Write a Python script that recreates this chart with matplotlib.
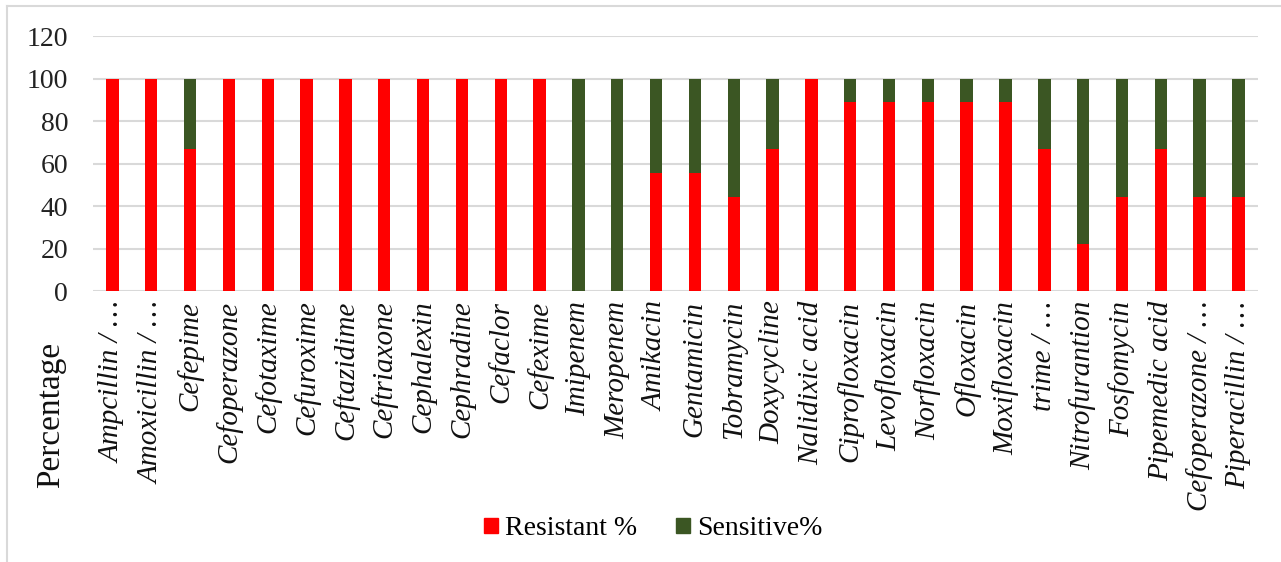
import numpy as np
import matplotlib
matplotlib.use('Agg')
import matplotlib.pyplot as plt
from matplotlib.lines import Line2D
from matplotlib.patches import Patch

drugs = ['Ampcillin / \u2026', 'Amoxicillin / \u2026', 'Cefepime', 'Cefoperazone',
         'Cefotaxime', 'Cefuroxime', 'Ceftazidime', 'Ceftriaxone', 'Cephalexin',
         'Cephradine', 'Cefaclor', 'Cefexime', 'Imipenem', 'Meropenem',
         'Amikacin', 'Gentamicin', 'Tobramycin', 'Doxycycline', 'Nalidixic acid',
         'Ciprofloxacin', 'Levofloxacin', 'Norfloxacin', 'Ofloxacin',
         'Moxifloxacin', 'trime / \u2026', 'Nitrofurantion', 'Fosfomycin',
         'Pipemedic acid', 'Cefoperazone / \u2026', 'Piperacillin / \u2026']
resistant = [100, 100, 66.7, 100, 100, 100, 100, 100, 100, 100, 100, 100, 0, 0,
             55.6, 55.6, 44.4, 66.7, 100, 88.9, 88.9, 88.9, 88.9, 88.9, 66.7,
             22.2, 44.4, 66.7, 44.4, 44.4]
sensitive = [0, 0, 33.3, 0, 0, 0, 0, 0, 0, 0, 0, 0, 100, 100,
             44.4, 44.4, 55.6, 33.3, 0, 11.1, 11.1, 11.1, 11.1, 11.1, 33.3,
             77.8, 55.6, 33.3, 55.6, 55.6]
yticks = [0, 20, 40, 60, 80, 100, 120]

RED = '#ff0000'
GREEN = '#3b5623'
serif = ['Liberation Serif', 'DejaVu Serif']

fig = plt.figure(figsize=(12.81, 5.62), dpi=100)
ax = fig.add_axes([0.0726, 0.4822, 0.9094, 0.4537])

x = np.arange(len(drugs))
ax.bar(x, resistant, width=0.32, color=RED, zorder=3)
ax.bar(x, sensitive, width=0.32, bottom=resistant, color=GREEN, zorder=3)

ax.set_xlim(-0.5, len(drugs) - 0.5)
ax.set_ylim(0, 120)
ax.set_yticks(yticks)
ax.set_yticklabels([str(v) for v in yticks], family=serif, fontsize=20,
                   color='#222222')
ax.yaxis.grid(True, color='#d9d9d9', linewidth=1.5, zorder=0)
ax.tick_params(axis='y', length=0, pad=18)
ax.tick_params(axis='x', length=0, pad=7)
ax.set_xticks(x)
ax.set_xticklabels(drugs, rotation=90, family=serif, style='italic',
                   fontsize=21, va='top', ha='center', color='#111111')
for s in ax.spines.values():
    s.set_visible(False)

fig.text(0.040, 0.262, 'Percentage', rotation=90, family=serif, fontsize=24,
         ha='center', va='center', color='#111111')

handles = [Patch(color=RED, label='Resistant %'),
           Patch(color=GREEN, label='Sensitive%')]
fig.legend(handles=handles, loc='center', bbox_to_anchor=(0.510, 0.059),
           ncol=2, frameon=False, prop={'family': serif, 'size': 20},
           handlelength=0.5, handleheight=0.5, handletextpad=0.25,
           columnspacing=1.4)

# light frame around the chart
fig.add_artist(Line2D([7 / 1281, 1], [1 - 5.5 / 562] * 2, color='#d9d9d9',
                      linewidth=1.5, transform=fig.transFigure))
fig.add_artist(Line2D([7 / 1281] * 2, [0, 1 - 5.5 / 562], color='#d9d9d9',
                      linewidth=1.5, transform=fig.transFigure))

fig.savefig('out.png', dpi=100, facecolor='white')
